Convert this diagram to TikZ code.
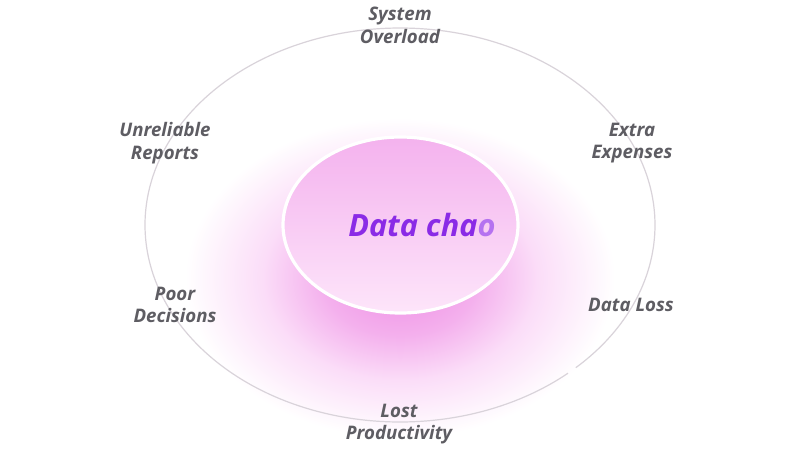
\documentclass[tikz,border=0pt]{standalone}
\usepackage{fontspec}
\setmainfont{Open Sans}
\definecolor{labelgray}{HTML}{5E5D63}
\definecolor{chaos}{HTML}{8A2BE6}
\definecolor{chaosfade}{HTML}{B572F0}
\definecolor{ringgray}{HTML}{D9D3DA}
\definecolor{glowA}{HTML}{EE8CE4}
\definecolor{glowB}{HTML}{F4B0ED}
\definecolor{glowC}{HTML}{FBDDF8}
\definecolor{innerTop}{HTML}{F4B2EE}
\definecolor{innerBot}{HTML}{FDE5FA}
\pgfdeclareradialshading{glow}{\pgfpoint{0bp}{0bp}}{color(0bp)=(glowA); color(9bp)=(glowB); color(16bp)=(glowC); color(25bp)=(white); color(50bp)=(white)}
\tikzset{
  lbl/.style={font=\bfseries\itshape\fontsize{14}{17}\selectfont, text=labelgray, align=center, inner sep=0pt},
}
\begin{document}
\begin{tikzpicture}[x=0.75pt,y=-0.75pt]
\useasboundingbox[fill=white] (0,0) rectangle (800,450);
% glow
\shade[shading=glow] (400,278) ellipse (215 and 160);
% outer ring with small gap
\draw[ringgray, line width=0.9pt] plot[domain=48.8:406.4, samples=240, smooth] ({400+255*cos(\x)},{225+197*sin(\x)});
% inner ellipse
\shade[top color=innerTop, bottom color=innerBot, draw=white, line width=2.4pt] (400.5,225) ellipse (117.5 and 88);
\node[anchor=base west, inner sep=0pt, font=\bfseries\itshape\fontsize{23}{27}\selectfont] (core) at (348,236) {\textcolor{chaos}{Data cha}\textcolor{chaosfade}{o}};
% labels
\node[lbl] (l1) at (400,25) {System\\Overload};
\node[lbl] (l2) at (165,143) {Unreliable\\Reports};
\node[lbl] (l3) at (632,143) {Extra\\Expenses};
\node[lbl] (l4) at (175,305) {Poor\\Decisions};
\node[lbl] (l5) at (631,305) {Data Loss};
\node[lbl] (l6) at (399,424) {Lost\\Productivity};
\end{tikzpicture}
\end{document}
